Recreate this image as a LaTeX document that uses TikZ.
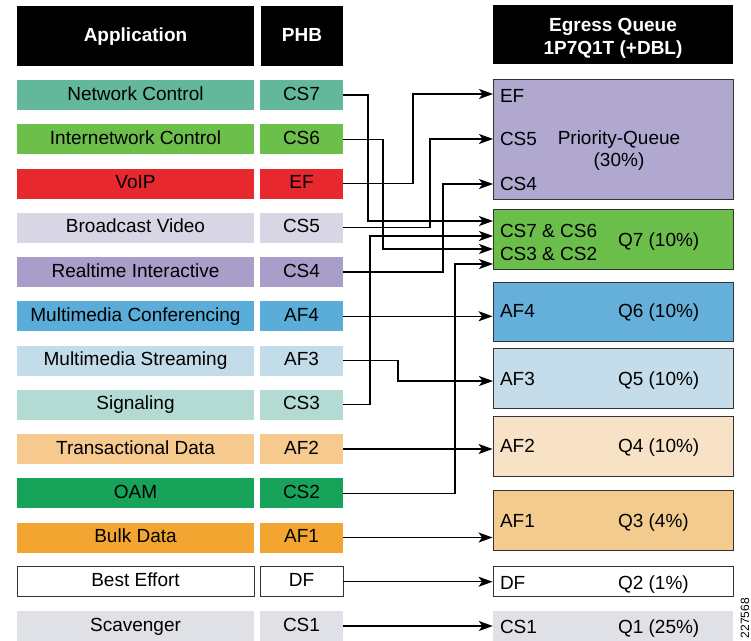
\documentclass[tikz,border=0pt]{standalone}
\usepackage{fontspec}
\setmainfont{Liberation Sans}
\usetikzlibrary{arrows.meta}

% row colours
\definecolor{cNet}{HTML}{63B89B}
\definecolor{cInet}{HTML}{6CBF4B}
\definecolor{cVoip}{HTML}{E8282F}
\definecolor{cBcast}{HTML}{D8D5E4}
\definecolor{cRtint}{HTML}{A99DCA}
\definecolor{cConf}{HTML}{5AADD8}
\definecolor{cStream}{HTML}{C3DCEA}
\definecolor{cSig}{HTML}{B3DBD3}
\definecolor{cTrans}{HTML}{F6CA8F}
\definecolor{cOam}{HTML}{17A35A}
\definecolor{cBulk}{HTML}{F2A530}
\definecolor{cScav}{HTML}{DFE1E6}
% queue colours
\definecolor{qPQ}{HTML}{B1A8D0}
\definecolor{qSeven}{HTML}{6CBE4A}
\definecolor{qSix}{HTML}{64B0DA}
\definecolor{qFive}{HTML}{C5DDEB}
\definecolor{qFour}{HTML}{F8E2C6}
\definecolor{qThree}{HTML}{F3CB8F}

\tikzset{
  txt/.style={font=\fontsize{19}{22}\selectfont, inner sep=0pt, outer sep=0pt,
              text height=13.5pt, text depth=3.5pt},
  fNet/.style={fill=cNet}, fInet/.style={fill=cInet}, fVoip/.style={fill=cVoip},
  fBcast/.style={fill=cBcast}, fRtint/.style={fill=cRtint}, fConf/.style={fill=cConf},
  fStream/.style={fill=cStream}, fSig/.style={fill=cSig}, fTrans/.style={fill=cTrans},
  fOam/.style={fill=cOam}, fBulk/.style={fill=cBulk}, fScav/.style={fill=cScav},
  fBest/.style={fill=white, draw=black!80, line width=0.9pt},
  appcell/.style={txt, minimum width=237pt, minimum height=30pt},
  phbcell/.style={txt, minimum width=83pt, minimum height=30pt},
  hdr/.style={fill=black, text=white, inner sep=0pt, align=center,
              font=\bfseries\fontsize{19}{23}\selectfont},
  hdrtext/.style={text=white, inner sep=0pt, align=center,
              font=\bfseries\fontsize{19}{23}\selectfont},
  queue/.style={draw=black!80, line width=0.9pt, minimum width=240pt, inner sep=0pt},
  qlabel/.style={txt, anchor=west},
  conn/.style={draw=black, line width=1.4pt,
               -{Stealth[length=14pt,width=10pt,inset=3.5pt]}}
}

\begin{document}
\begin{tikzpicture}[x=1pt, y=-1pt]
\useasboundingbox (0,0) rectangle (751,640);

% column headers
\node[hdr, minimum width=237pt, minimum height=60pt, text depth=2pt] (h-app) at (135.5,36) {Application};
\node[hdr, minimum width=82pt, minimum height=60pt, text depth=2pt] (h-phb) at (302,36) {PHB};
\node[hdr, minimum width=240pt, minimum height=59pt] (h-eq) at (613,34.5) {};
\node[hdrtext] (h-eq-text) at (613,38) {Egress Queue\\1P7Q1T (+DBL)};

% application / PHB rows
\foreach \i/\app/\phb/\sty in {
  0/Network Control/CS7/fNet,
  1/Internetwork Control/CS6/fInet,
  2/VoIP/EF/fVoip,
  3/Broadcast Video/CS5/fBcast,
  4/Realtime Interactive/CS4/fRtint,
  5/Multimedia Conferencing/AF4/fConf,
  6/Multimedia Streaming/AF3/fStream,
  7/Signaling/CS3/fSig,
  8/Transactional Data/AF2/fTrans,
  9/OAM/CS2/fOam,
  10/Bulk Data/AF1/fBulk,
  11/Best Effort/DF/fBest,
  12/Scavenger/CS1/fScav}{
  \node[appcell, \sty] (a\i) at (135.5,{95+44.25*\i}) {\app};
  \node[phbcell, \sty] (p\i) at (301.5,{95+44.25*\i}) {\phb};
}

% egress queues
\node[queue, fill=qPQ,    minimum height=120pt] (pq) at (613,139) {};
\node[queue, fill=qSeven, minimum height=60pt]  (q7) at (613,239) {};
\node[queue, fill=qSix,   minimum height=59pt]  (q6) at (613,311.5) {};
\node[queue, fill=qFive,  minimum height=60pt]  (q5) at (613,378) {};
\node[queue, fill=qFour,  minimum height=60pt]  (q4) at (613,446) {};
\node[queue, fill=qThree, minimum height=60pt]  (q3) at (613,520) {};
\node[queue, fill=white,  minimum height=30pt]  (q2) at (613,581) {};
\node[fill=cScav, inner sep=0pt, minimum width=240pt, minimum height=30pt] (q1) at (613,626) {};

% queue texts
\node[qlabel] (l-ef)  at (500,97)  {EF};
\node[qlabel] (l-cs5) at (500,140) {CS5};
\node[qlabel] (l-cs4) at (500,185) {CS4};
\node[align=center, inner sep=0pt, font=\fontsize{19}{22}\selectfont]
  (l-pq) at (619,151) {Priority-Queue\\(30\%)};
\node[qlabel] (l-c76) at (500,232) {CS7 \& CS6};
\node[qlabel] (l-c32) at (500,255) {CS3 \& CS2};
\node[qlabel] (l-q7)  at (618,241) {Q7 (10\%)};
\node[qlabel] (l-af4) at (500,312) {AF4};
\node[qlabel] (l-q6)  at (618,312) {Q6 (10\%)};
\node[qlabel] (l-af3) at (500,380) {AF3};
\node[qlabel] (l-q5)  at (618,380) {Q5 (10\%)};
\node[qlabel] (l-af2) at (500,447) {AF2};
\node[qlabel] (l-q4)  at (618,447) {Q4 (10\%)};
\node[qlabel] (l-af1) at (500,522) {AF1};
\node[qlabel] (l-q3)  at (618,522) {Q3 (4\%)};
\node[qlabel] (l-df)  at (500,584) {DF};
\node[qlabel] (l-q2)  at (618,584) {Q2 (1\%)};
\node[qlabel] (l-cs1) at (500,628) {CS1};
\node[qlabel] (l-q1)  at (618,628) {Q1 (25\%)};

% figure number
\node[font=\fontsize{12}{12}\selectfont, rotate=90, inner sep=0pt] (figno) at (745,618) {227568};

% arrow entry points on the queues
\coordinate (in-ef)  at (493,94);
\coordinate (in-cs5) at (493,139);
\coordinate (in-cs4) at (493,184);
\coordinate (in-cs7) at (493,221);
\coordinate (in-cs3) at (493,236);
\coordinate (in-cs6) at (493,249);
\coordinate (in-cs2) at (493,264);
\coordinate (in-af3) at (493,381);

% PHB to queue mapping
\draw[conn] (p0.east) -- ++(25,0) |- (in-cs7);
\draw[conn] (p1.east) -- ++(40,0) |- (in-cs6);
\draw[conn] (p2.east) -- ++(70,0) |- (in-ef);
\draw[conn] (p3.east) -- ++(87,0) |- (in-cs5);
\draw[conn] (p4.east) -- ++(100,0) |- (in-cs4);
\draw[conn] (p5.east) -- (p5.east -| q6.west);
\draw[conn] (p6.east) -- ++(55,0) |- (in-af3);
\draw[conn] (p7.east) -- ++(27,0) |- (in-cs3);
\draw[conn] (p8.east) -- (p8.east -| q4.west);
\draw[conn] (p9.east) -- ++(112,0) |- (in-cs2);
\draw[conn] (p10.east) -- (p10.east -| q3.west);
\draw[conn] (p11.east) -- (p11.east -| q2.west);
\draw[conn] (p12.east) -- (p12.east -| q1.west);
\end{tikzpicture}
\end{document}
